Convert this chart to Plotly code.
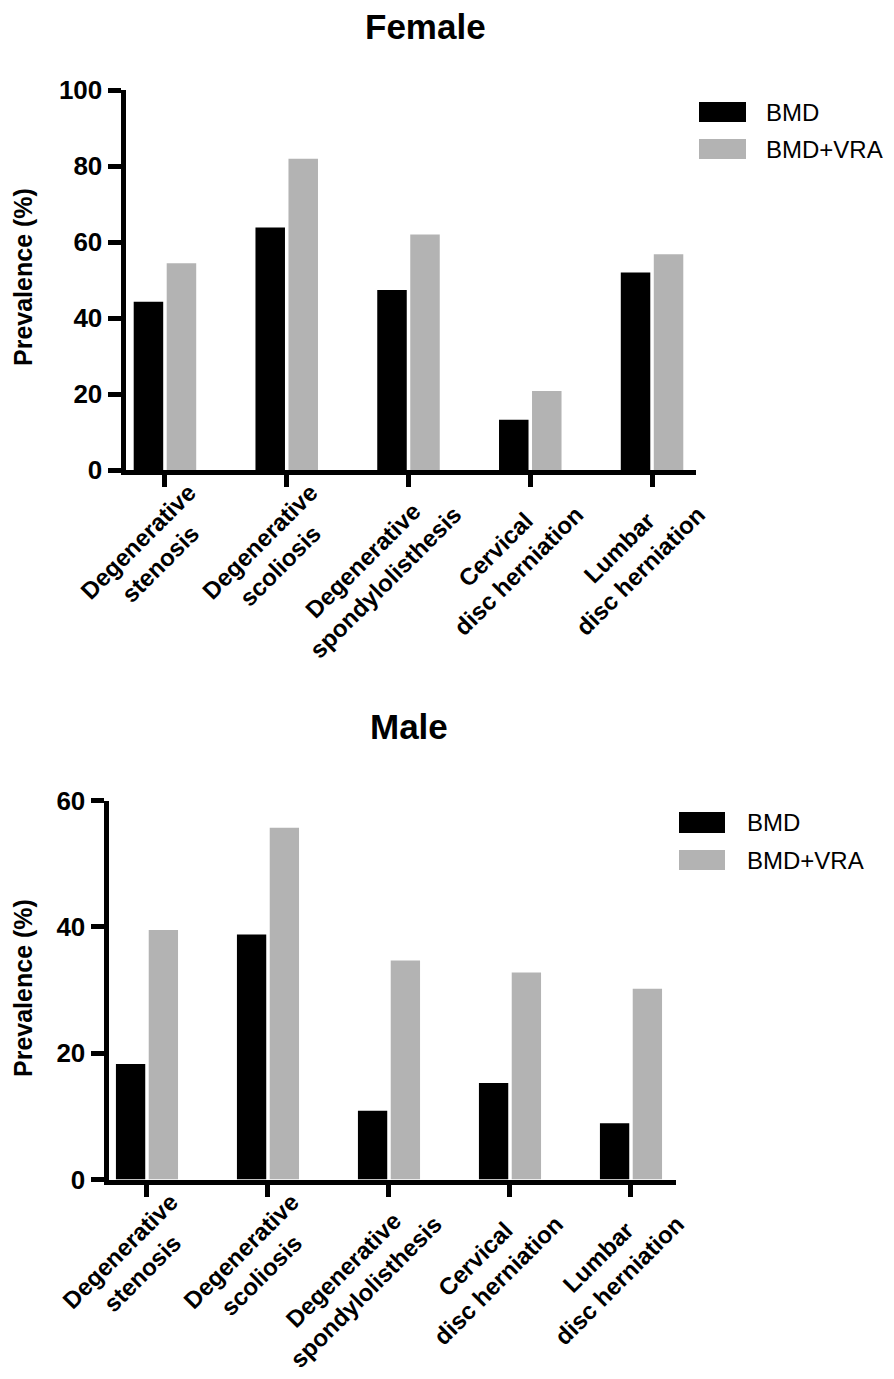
import plotly.graph_objects as go

# ---------------- data ----------------
categories = [
    "Degenerative stenosis",
    "Degenerative scoliosis",
    "Degenerative spondylolisthesis",
    "Cervical disc herniation",
    "Lumbar disc herniation",
]
# two-line tick labels (short line padded with no-break spaces to look centred)
tick_labels = [
    "Degenerative<br>stenosis&nbsp;&nbsp;&nbsp;&nbsp;",
    "Degenerative<br>scoliosis&nbsp;&nbsp;&nbsp;&nbsp;",
    "Degenerative&nbsp;&nbsp;&nbsp;&nbsp;<br>spondylolisthesis",
    "Cervical&nbsp;&nbsp;&nbsp;&nbsp;&nbsp;&nbsp;<br>disc herniation",
    "Lumbar&nbsp;&nbsp;&nbsp;&nbsp;&nbsp;&nbsp;<br>disc herniation",
]
series_names = ["BMD", "BMD+VRA"]
female_bmd = [44.3, 63.8, 47.4, 13.2, 52.0]
female_bmd_vra = [54.4, 81.9, 62.0, 20.8, 56.8]
male_bmd = [18.3, 38.8, 10.9, 15.3, 8.9]
male_bmd_vra = [39.5, 55.7, 34.7, 32.8, 30.2]
female_yticks = [0, 20, 40, 60, 80, 100]
male_yticks = [0, 20, 40, 60]
panel_titles = ["Female", "Male"]
y_title = "Prevalence (%)"

# ---------------- style ----------------
OFF = 8                      # page body margin: the figure starts 8 px in
W, H = 894 - OFF, 1379 - OFF
FONT = "Liberation Sans, Arial, Helvetica, sans-serif"
COLORS = ["#000000", "#b3b3b3"]
LW = 5


def px(x):
    """screen x (window pixels) -> paper fraction"""
    return (x - OFF) / W


def py(y):
    """screen y (window pixels) -> paper fraction"""
    return 1 - (y - OFF) / H


fig = go.Figure()

for vals, name, col in zip([female_bmd, female_bmd_vra], series_names, COLORS):
    fig.add_trace(go.Bar(x=categories, y=vals, name=name, marker=dict(color=col, line=dict(width=0)),
                         xaxis="x", yaxis="y", showlegend=False))
for vals, name, col in zip([male_bmd, male_bmd_vra], series_names, COLORS):
    fig.add_trace(go.Bar(x=categories, y=vals, name=name, marker=dict(color=col, line=dict(width=0)),
                         xaxis="x2", yaxis="y2", showlegend=False))

xcommon = dict(
    type="category", showline=True, linewidth=LW, linecolor="black",
    ticks="outside", ticklen=12, tickwidth=LW, tickcolor="black",
    tickangle=-45, showgrid=False, zeroline=False, automargin=False,
    tickvals=categories, ticktext=tick_labels,
    ticklabelshift=24, ticklabelstandoff=-18,
    tickfont=dict(family=FONT, size=24, color="black", weight="bold"),
    fixedrange=True,
)
ycommon = dict(
    showline=True, linewidth=LW, linecolor="black",
    ticks="outside", ticklen=13, tickwidth=LW, tickcolor="black",
    showgrid=False, zeroline=False, automargin=False,
    tickfont=dict(family=FONT, size=26, color="black", weight="bold"),
    fixedrange=True,
)

fig.update_layout(
    width=W, height=H,
    margin=dict(l=0, r=0, t=0, b=0, autoexpand=False),
    paper_bgcolor="white", plot_bgcolor="white",
    barmode="group", bargap=0.458, bargroupgap=0.106,
    showlegend=False,
    xaxis=dict(xcommon, domain=[px(125.5), px(696)], range=[-0.324, 4.361], anchor="y"),
    yaxis=dict(ycommon, domain=[py(470), py(90)], range=[0, 100], tickvals=female_yticks, anchor="x"),
    xaxis2=dict(xcommon, domain=[px(108.5), px(676)], range=[-0.318, 4.372], anchor="y2"),
    yaxis2=dict(ycommon, domain=[py(1179.5), py(800.7)], range=[0, 60], tickvals=male_yticks, anchor="x2"),
)

annotations = []
shapes = []
# panel titles
for title, cx, cy in zip(panel_titles, [425, 409], [27, 726]):
    annotations.append(dict(text=title, x=px(cx), y=py(cy), xref="paper", yref="paper",
                            xanchor="center", yanchor="middle", showarrow=False,
                            font=dict(family=FONT, size=35, color="black", weight="bold")))
# y-axis titles
for cy in [277, 988]:
    annotations.append(dict(text=y_title, x=px(23), y=py(cy), xref="paper", yref="paper",
                            xanchor="center", yanchor="middle", showarrow=False, textangle=-90,
                            font=dict(family=FONT, size=25, color="black", weight="bold")))
# legends
legend_specs = [
    dict(sx0=699, sx1=746, tx=764, rows=[(102, 122), (139, 159)]),
    dict(sx0=679, sx1=725, tx=745, rows=[(812, 833), (850, 870)]),
]
for spec in legend_specs:
    for (y0, y1), name, col in zip(spec["rows"], series_names, COLORS):
        shapes.append(dict(type="rect", xref="paper", yref="paper",
                           x0=px(spec["sx0"]), x1=px(spec["sx1"]), y0=py(y1), y1=py(y0),
                           fillcolor=col, line=dict(width=0)))
        annotations.append(dict(text=name, x=px(spec["tx"]), y=py((y0 + y1) / 2), xref="paper", yref="paper",
                                xanchor="left", yanchor="middle", showarrow=False,
                                font=dict(family=FONT, size=24, color="black")))

fig.update_layout(annotations=annotations, shapes=shapes)
fig.write_html("out.html")
